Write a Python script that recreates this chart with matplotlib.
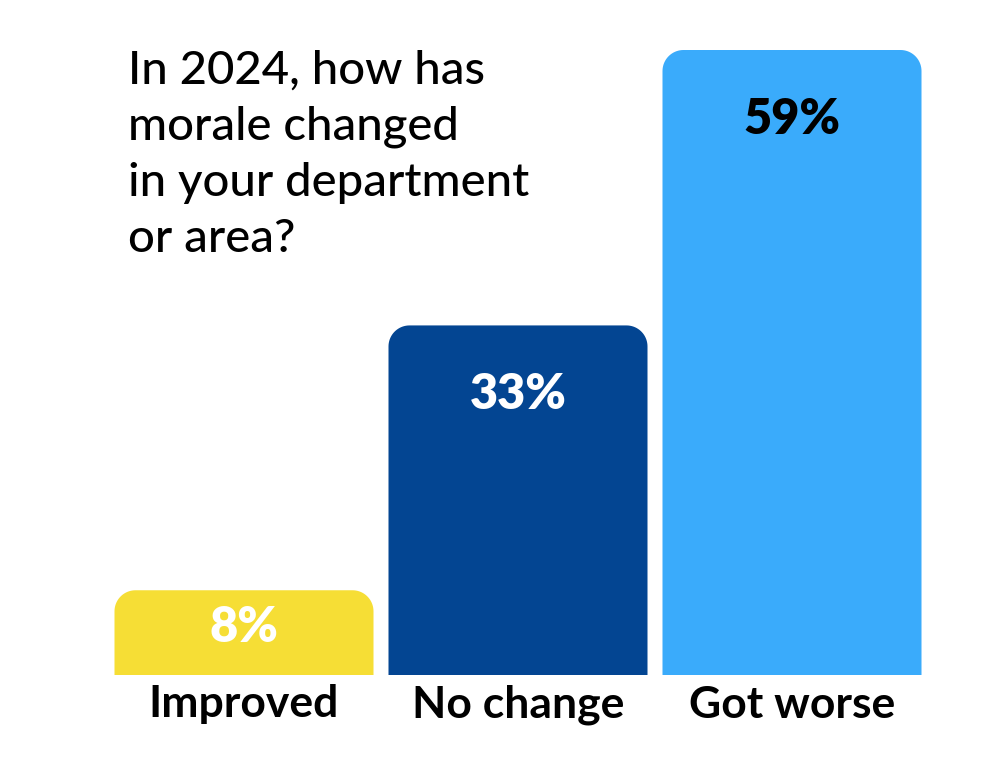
import matplotlib
matplotlib.use("Agg")
import numpy as np
import matplotlib.pyplot as plt
from matplotlib.patches import Polygon

categories = ["Improved", "No change", "Got worse"]
values = [8, 33, 59]
value_labels = ["8%", "33%", "59%"]
bar_colors = ["#F6DE35", "#034592", "#3AABFB"]
label_colors = ["white", "white", "black"]
title = "In 2024, how has\nmorale changed\nin your department\nor area?"

W, H = 1000, 772
fig = plt.figure(figsize=(W / 100, H / 100), dpi=100)
fig.patch.set_facecolor("white")

# axes spans whole figure; baseline at y=675px, 59% top at y=50px
ax = fig.add_axes([0, 0, 1, 1])
px_x = 274.0                      # pixels per category step
px_y = 625.0 / 59                 # pixels per percent
ax.set_xlim(-244 / px_x, (W - 244) / px_x)
ax.set_ylim(-(H - 675) / px_y, 675 / px_y)
ax.axis("off")

bar_w = 259 / px_x
r_px = 21
rx, ry = r_px / px_x, r_px / px_y


def top_rounded_bar(xc, h):
    # corner arcs drawn as circles in pixel space
    x0, x1 = xc - bar_w / 2, xc + bar_w / 2
    t = np.linspace(0, np.pi / 2, 20)
    right = np.column_stack([x1 - rx + rx * np.cos(t), h - ry + ry * np.sin(t)])
    left = np.column_stack([x0 + rx - rx * np.sin(t), h - ry + ry * np.cos(t)])
    pts = np.vstack([[x1, 0], right, left, [x0, 0]])
    return pts


for i, (v, c) in enumerate(zip(values, bar_colors)):
    ax.add_patch(Polygon(top_rounded_bar(i, v), closed=True, fc=c, ec="none"))

for i, (v, lab, lc) in enumerate(zip(values, value_labels, label_colors)):
    y = max(v - 69 / px_y, v / 2 + 0.5)
    ax.text(i, y, lab, ha="center", va="center", color=lc,
            fontsize=35, fontweight="heavy", family="Lato")

for i, cat in enumerate(categories):
    ax.text(i, -26 / px_y, cat, ha="center", va="center_baseline",
            color="black", fontsize=32, fontweight="bold", family="Lato")

fig.text(128 / W, 1 - 50 / H, title, ha="left", va="top", fontsize=34,
         family="Lato", fontweight="medium", linespacing=1.41, color="black")

fig.savefig("out.png", dpi=100, facecolor="white")
